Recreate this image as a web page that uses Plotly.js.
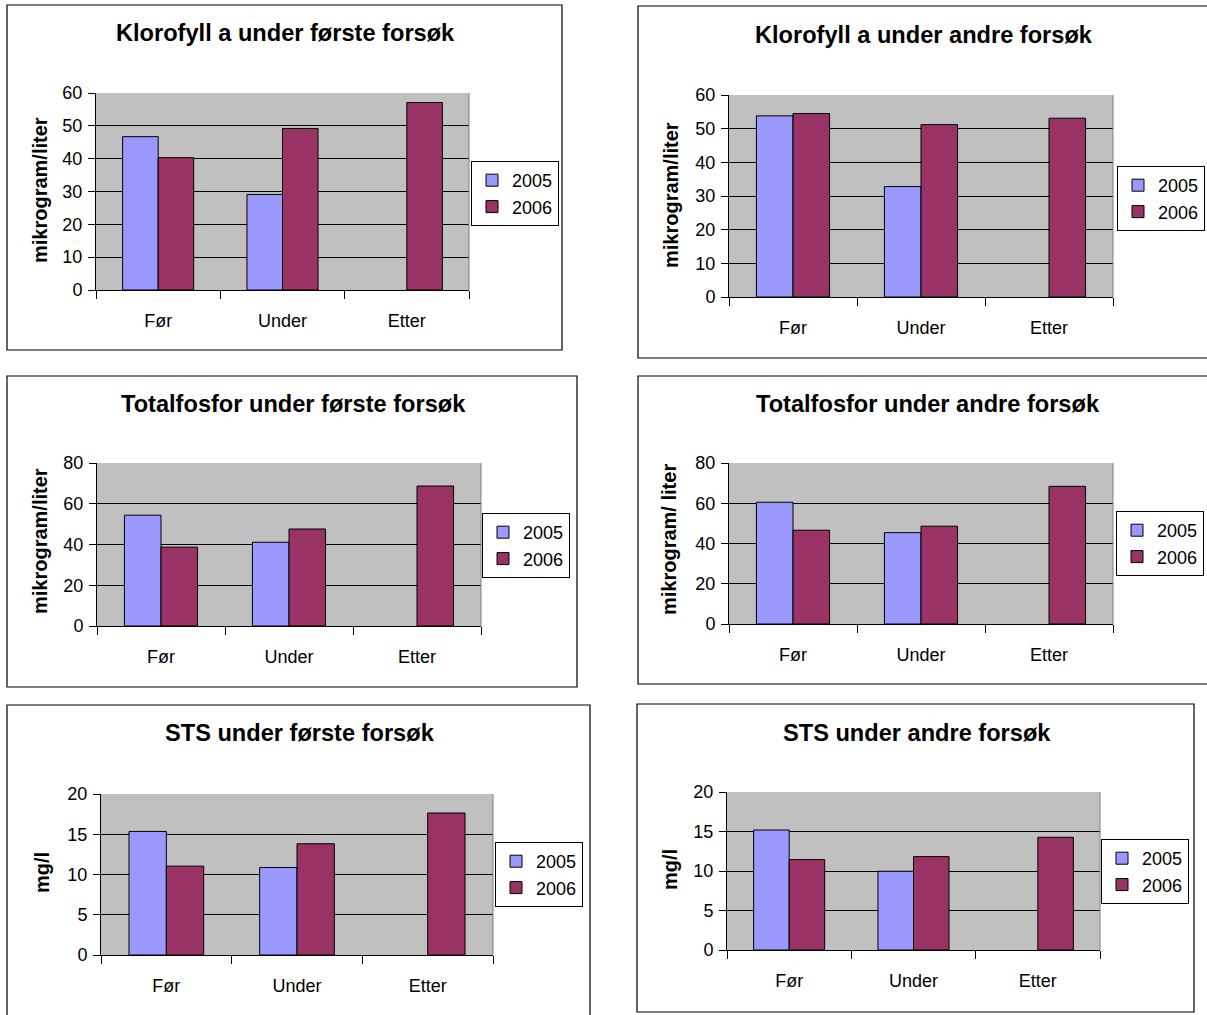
<!DOCTYPE html>
<html>
<head>
<meta charset="utf-8">
<script src="https://cdn.plot.ly/plotly-3.0.1.min.js"></script>
<style>html,body{margin:0;padding:0;background:#fff;overflow:hidden;}#chart{width:1207px;height:1015px;}</style>
</head>
<body>
<div id="chart"></div>
<script>
// ---- Data ----
const categories = ['Før', 'Under', 'Etter'];
const seriesNames = ['2005', '2006'];

const klorofyllFirst2005 = [46.7, 29.1, null];
const klorofyllFirst2006 = [40.3, 49.2, 57.1];
const klorofyllSecond2005 = [53.8, 32.8, null];
const klorofyllSecond2006 = [54.5, 51.2, 53.1];
const fosforFirst2005 = [54.4, 41.1, null];
const fosforFirst2006 = [38.7, 47.6, 68.7];
const fosforSecond2005 = [60.5, 45.4, null];
const fosforSecond2006 = [46.6, 48.6, 68.4];
const stsFirst2005 = [15.35, 10.87, null];
const stsFirst2006 = [11.04, 13.82, 17.64];
const stsSecond2005 = [15.19, 9.97, null];
const stsSecond2006 = [11.44, 11.82, 14.27];

const chartTitles = [
  'Klorofyll a under første forsøk', 'Klorofyll a under andre forsøk',
  'Totalfosfor under første forsøk', 'Totalfosfor under andre forsøk',
  'STS under første forsøk', 'STS under andre forsøk'
];
const yTitles = ['mikrogram/liter', 'mikrogram/liter', 'mikrogram/liter', 'mikrogram/ liter', 'mg/l', 'mg/l'];
const yMax = [60, 60, 80, 80, 20, 20];
const yStep = [10, 10, 20, 20, 5, 5];

const data2005 = [klorofyllFirst2005, klorofyllSecond2005, fosforFirst2005, fosforSecond2005, stsFirst2005, stsSecond2005];
const data2006 = [klorofyllFirst2006, klorofyllSecond2006, fosforFirst2006, fosforSecond2006, stsFirst2006, stsSecond2006];

// ---- Layout geometry (pixels) ----
const W = 1207, H = 1015;
const frames = [
  [7, 5, 562, 350], [638, 6, 1215, 358],
  [7, 376, 577, 687], [638, 376, 1215, 684],
  [7, 705, 590, 1025], [637, 704, 1194, 1012]
];
const plots = [
  [96, 93, 469, 290], [729, 95, 1113, 297],
  [97, 463, 481, 626], [729, 463, 1113, 624],
  [101, 794, 493, 955], [727, 792, 1100, 950]
];
// legend right edge, top edge
const legendsPos = [
  [559, 161], [1205, 166], [570, 513], [1204, 511], [583, 842], [1189, 839]
];
const titlePos = [[285, 33], [924, 35], [293, 404], [928, 404], [300, 733], [917, 733]];
const yTitlePos = [[40, 190], [671, 195], [40, 541], [669, 540], [42, 873], [670, 870]];

const colors = ['#9999FF', '#993366'];
const FONT = '"Liberation Sans", Arial, sans-serif';

const px = v => v / W;
const py = v => 1 - v / H;

const traces = [];
const layout = {
  width: W, height: H,
  margin: {l: 0, r: 0, t: 0, b: 0, autoexpand: false},
  paper_bgcolor: '#ffffff',
  plot_bgcolor: '#C0C0C0',
  barmode: 'group',
  bargap: 0.4286,
  bargroupgap: 0,
  font: {family: FONT, size: 18, color: '#000'},
  shapes: [],
  annotations: []
};

for (let i = 0; i < 6; i++) {
  const n = i + 1;
  const xa = n === 1 ? 'x' : 'x' + n;
  const ya = n === 1 ? 'y' : 'y' + n;
  const lg = n === 1 ? 'legend' : 'legend' + n;
  [data2005[i], data2006[i]].forEach((vals, s) => {
    traces.push({
      type: 'bar', x: categories, y: vals, name: seriesNames[s],
      xaxis: xa, yaxis: ya, legend: lg,
      marker: {color: colors[s], line: {color: '#000', width: 1}},
      hoverinfo: 'x+y+name'
    });
  });
  const p = plots[i];
  layout['xaxis' + (n === 1 ? '' : n)] = {
    domain: [px(p[0]), px(p[2])], anchor: ya,
    type: 'category', showgrid: false, zeroline: false,
    showline: true, linecolor: '#000', linewidth: 1,
    ticks: 'outside', tickson: 'boundaries', ticklen: 8, tickcolor: '#000',
    tickfont: {size: 18, family: FONT}, ticklabelstandoff: 14,
    fixedrange: true
  };
  layout['yaxis' + (n === 1 ? '' : n)] = {
    domain: [py(p[3]), py(p[1])], anchor: xa,
    range: [0, yMax[i]], dtick: yStep[i], tick0: 0,
    showgrid: true, gridcolor: '#000', gridwidth: 1, zeroline: false,
    showline: true, linecolor: '#000', linewidth: 1,
    ticks: 'outside', ticklen: 7, tickcolor: '#000',
    tickfont: {size: 18, family: FONT}, ticklabelstandoff: 2,
    fixedrange: true
  };
  const lp = legendsPos[i];
  layout[lg] = {
    x: px(lp[0]), y: py(lp[1]), xanchor: 'right', yanchor: 'top',
    xref: 'paper', yref: 'paper',
    bgcolor: '#fff', bordercolor: '#000', borderwidth: 1,
    font: {size: 18, family: FONT}, itemwidth: 30, tracegroupgap: 0
  };
  const f = frames[i];
  layout.shapes.push({
    type: 'rect', xref: 'paper', yref: 'paper',
    x0: px(f[0]), x1: px(f[2]), y0: py(f[3]), y1: py(f[1]),
    line: {color: '#000', width: 1.2}, layer: 'below'
  });
  layout.shapes.push({
    type: 'line', xref: xa + ' domain', yref: ya + ' domain',
    x0: 1, x1: 1, y0: 0, y1: 1, line: {color: '#808080', width: 1}, layer: 'above'
  });
  layout.annotations.push({
    text: '<b>' + chartTitles[i] + '</b>', xref: 'paper', yref: 'paper',
    x: px(titlePos[i][0]), y: py(titlePos[i][1]), xanchor: 'center', yanchor: 'middle',
    showarrow: false, font: {size: 23.6, family: FONT, color: '#000'}
  });
  layout.annotations.push({
    text: '<b>' + yTitles[i] + '</b>', xref: 'paper', yref: 'paper',
    x: px(yTitlePos[i][0]), y: py(yTitlePos[i][1]), xanchor: 'center', yanchor: 'middle',
    textangle: -90, showarrow: false, font: {size: 20, family: FONT, color: '#000'}
  });
}

Plotly.newPlot('chart', traces, layout, {staticPlot: true, displayModeBar: false});
</script>
</body>
</html>
